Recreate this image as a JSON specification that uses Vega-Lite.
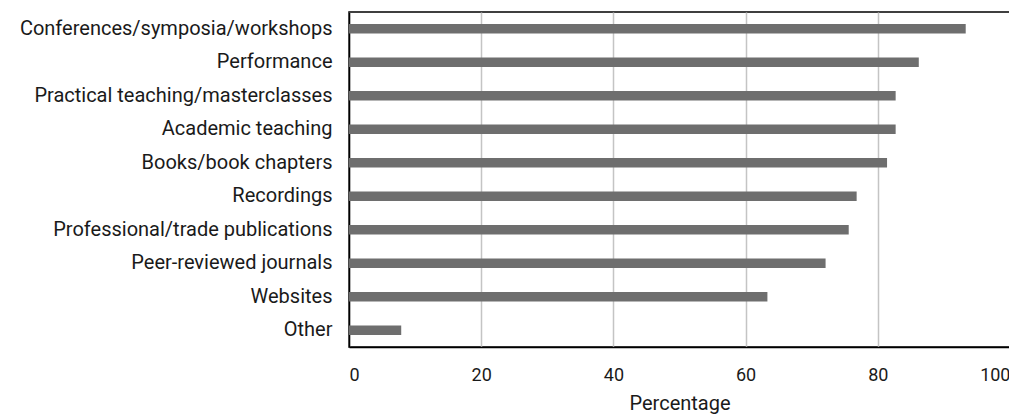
{
  "$schema": "https://vega.github.io/schema/vega-lite/v6.json",
  "autosize": {"type": "none"},
  "padding": {"left": 349, "top": 12, "right": 0, "bottom": 70},
  "width": 661,
  "height": 335,
  "background": "white",
  "config": {
    "view": {"stroke": "#000000", "strokeWidth": 1.5},
    "font": "Roboto"
  },
  "data": {
    "values": [
      {"category": "Conferences/symposia/workshops", "pct": 93.3},
      {"category": "Performance", "pct": 86.2},
      {"category": "Practical teaching/masterclasses", "pct": 82.7},
      {"category": "Academic teaching", "pct": 82.7},
      {"category": "Books/book chapters", "pct": 81.4},
      {"category": "Recordings", "pct": 76.8},
      {"category": "Professional/trade publications", "pct": 75.6},
      {"category": "Peer-reviewed journals", "pct": 72.1},
      {"category": "Websites", "pct": 63.3},
      {"category": "Other", "pct": 7.9}
    ]
  },
  "mark": {"type": "bar", "color": "#6e6e6e"},
  "encoding": {
    "y": {
      "field": "category",
      "type": "nominal",
      "sort": null,
      "scale": {"paddingInner": 0.72, "paddingOuter": 0.36},
      "axis": {
        "title": null,
        "ticks": false,
        "domain": true,
        "domainColor": "#000000",
        "domainWidth": 1.5,
        "labelFont": "Roboto",
        "labelFontSize": 20,
        "labelColor": "#1a1a1a",
        "labelPadding": 17,
        "labelLimit": 400
      }
    },
    "x": {
      "field": "pct",
      "type": "quantitative",
      "scale": {"domain": [0, 100], "nice": false},
      "axis": {
        "title": "Percentage",
        "values": [0, 20, 40, 60, 80, 100],
        "ticks": false,
        "domain": true,
        "domainColor": "#000000",
        "domainWidth": 1.5,
        "grid": true,
        "gridColor": "#c4c4c4",
        "gridWidth": 1.5,
        "labelFont": "Roboto",
        "labelFontSize": 18,
        "labelColor": "#1a1a1a",
        "labelPadding": 19,
        "labelFlush": true,
        "titleFont": "Roboto",
        "titleFontSize": 20,
        "titleFontWeight": "normal",
        "titleColor": "#1a1a1a",
        "titlePadding": 9
      }
    }
  }
}
